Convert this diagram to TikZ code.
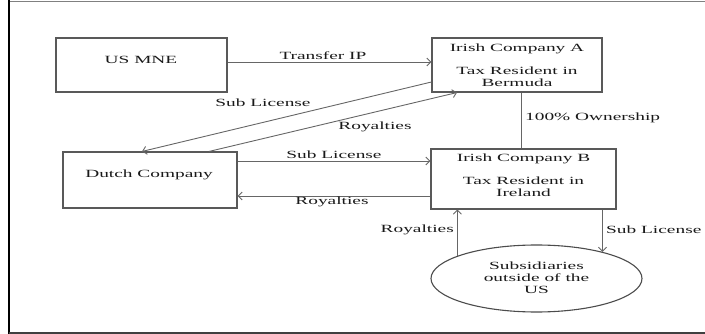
\documentclass[tikz,border=0pt]{standalone}
\usepackage{fontspec}
\setmainfont{Liberation Serif}[FakeStretch=1.76]
\usetikzlibrary{arrows.meta,shapes.geometric}
\begin{document}
\begin{tikzpicture}[x=1pt,y=-1pt,
  box/.style={draw=black!65, line width=1.1pt, inner sep=0pt},
  txt/.style={font=\fontsize{11}{12}\selectfont, text=black!90, inner sep=0pt, align=center},
  arr/.style={draw=black!60, line width=0.9pt, -{Straight Barb[length=4pt,width=8pt]}},
  ln/.style={draw=black!60, line width=0.9pt}]
\useasboundingbox (0,0) rectangle (705,334);
% frame
\draw[black!50, line width=0.8pt] (9,1) -- (705,1);
\draw[black, line width=2pt] (9,0) -- (9,334);
\draw[black!75, line width=2pt] (9,333) -- (705,333);
% boxes
\node[box, minimum width=171pt, minimum height=54pt] (usmne) at (141.5,65) {};
\node[txt] (usmnet) at (141,60) {US MNE};
\node[box, minimum width=170pt, minimum height=54pt] (A) at (517,65) {};
\node[txt, anchor=north] (At) at (517,44) {Irish Company A\\[11pt]Tax Resident in\\Bermuda};
\node[box, minimum width=185pt, minimum height=60pt] (B) at (523.5,179) {};
\node[txt, anchor=north] (Bt) at (523.5,154) {Irish Company B\\[11pt]Tax Resident in\\Ireland};
\node[box, minimum width=174pt, minimum height=56pt] (D) at (150,180) {};
\node[txt] (Dt) at (149,175) {Dutch Company};
\node[ellipse, draw=black!70, line width=1.1pt, minimum width=211pt, minimum height=67pt, inner sep=0pt] (S) at (536.5,278.5) {};
\node[txt] (St) at (536.5,277.5) {Subsidiaries\\outside of the\\US};
% connectors
\draw[arr] (usmne.east |- 0,62) -- (A.west |- 0,62);
\draw[arr] (A.west |- 0,82) -- (D.north -| 142,0);
\draw[arr] (D.north -| 209,0) -- (A.south -| 457,0);
\draw[ln] (A.south -| 521,0) -- (B.north -| 521,0);
\draw[arr] (D.east |- 0,161) -- (B.west |- 0,161);
\draw[arr] (B.west |- 0,196) -- (D.east |- 0,196);
\draw[arr] (S.164) -- (S.164 |- B.south);
\draw[arr] (B.south -| S.22) -- (S.22);
% labels
\node[txt] (l1) at (323,56) {Transfer IP};
\node[txt] (l2) at (263,103) {Sub License};
\node[txt] (l3) at (375,127) {Royalties};
\node[txt, anchor=west] (l4) at (525,118) {100\% Ownership};
\node[txt] (l5) at (334,155) {Sub License};
\node[txt] (l6) at (332,201.5) {Royalties};
\node[txt, anchor=east] (l7) at (454,230) {Royalties};
\node[txt, anchor=west] (l8) at (606,230) {Sub License};
\end{tikzpicture}
\end{document}
